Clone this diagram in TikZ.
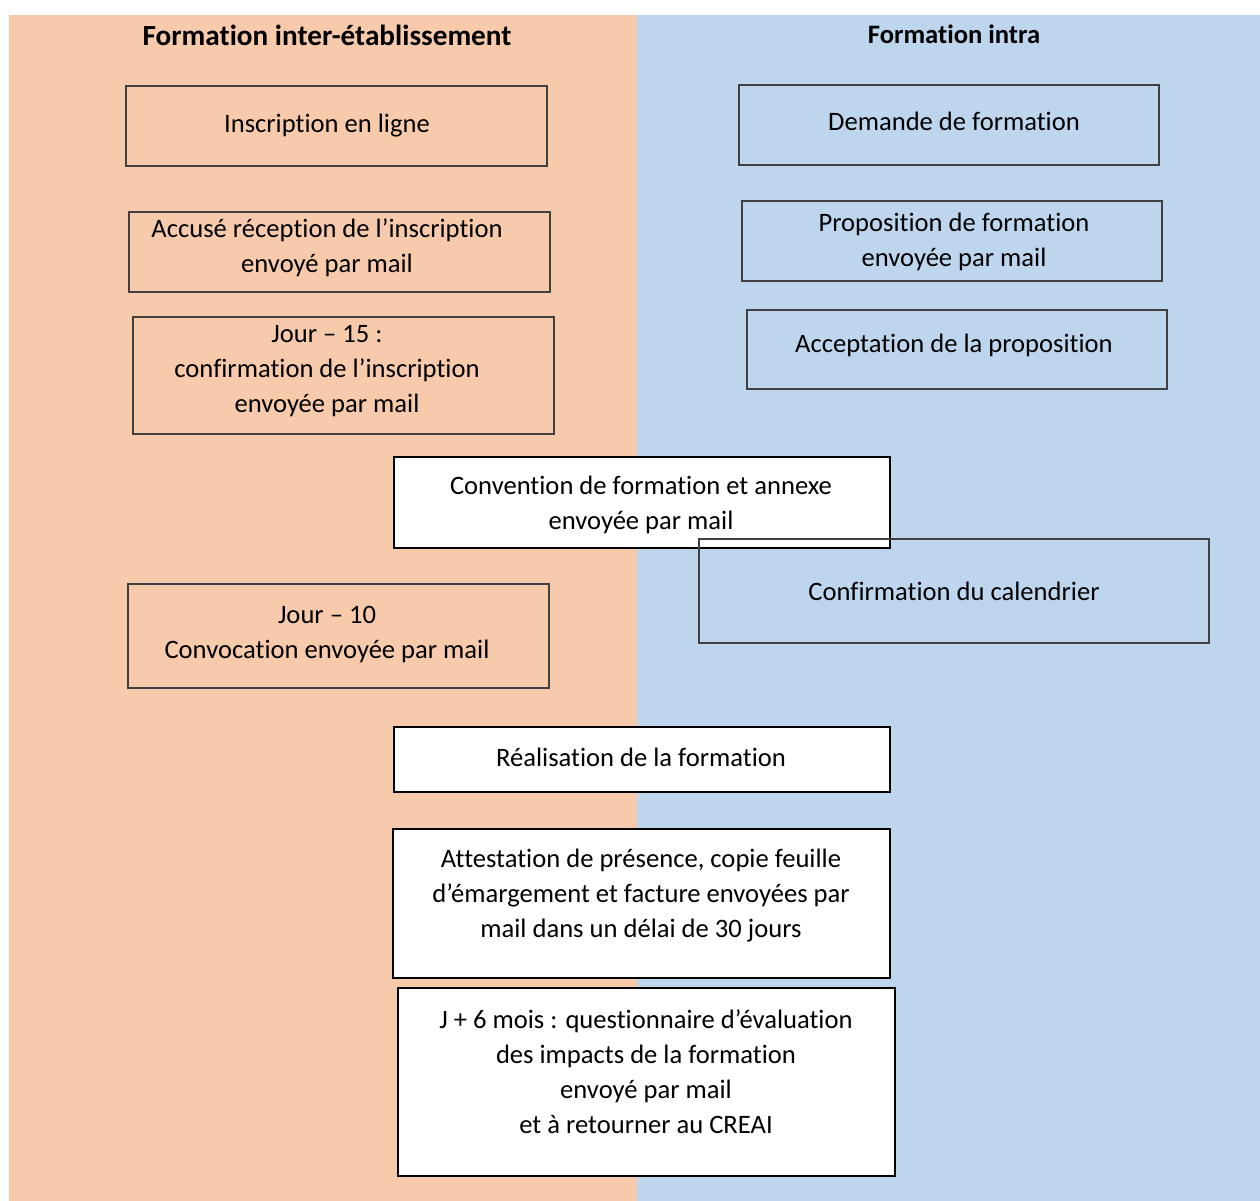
\documentclass[tikz,border=0pt]{standalone}
\usepackage{fontspec}
\setmainfont[RawFeature={-liga;-clig;-calt;-dlig}]{Carlito}
\definecolor{orangebg}{HTML}{F7CAAC}
\definecolor{bluebg}{HTML}{BDD6EE}
\begin{document}
\begin{tikzpicture}[x=0.5pt,y=-0.5pt,
  thinbox/.style={draw=black!75,line width=0.6pt,inner sep=0pt},
  thickbox/.style={draw=black,fill=white,line width=1.1pt,inner sep=0pt},
  txt/.style={align=center,inner sep=0pt,font=\fontsize{13.3}{17.5}\selectfont},
  ttl/.style={inner sep=0pt,font=\fontsize{13.3}{16}\selectfont\bfseries}]
\useasboundingbox (0,0) rectangle (1260,1201);
\fill[orangebg] (9,15) rectangle (637,1201);
\fill[bluebg] (637,15) rectangle (1260,1201);
% titles
\node[ttl,font=\fontsize{14.6}{17}\selectfont\bfseries] (t1) at (327,35) {Formation inter-établissement};
\node[ttl] (t2) at (954,34) {Formation intra};
% left column
\draw[thinbox] (126,86) rectangle (547,166);
\node[txt] (l1) at (327,125.5) {Inscription en ligne};
\draw[thinbox] (129,212) rectangle (550,292);
\node[txt] (l2) at (327,248) {Accusé réception de l’inscription\\envoyé par mail};
\draw[thinbox] (133,317) rectangle (554,434);
\node[txt] (l3) at (327,371.5) {Jour – 15 :\\confirmation de l’inscription\\envoyée par mail};
\draw[thinbox] (128,584) rectangle (549,688);
\node[txt] (l4) at (327,635) {Jour – 10\\Convocation envoyée par mail};
% right column
\draw[thinbox] (739,85) rectangle (1159,165);
\node[txt] (r1) at (954,121.5) {Demande de formation};
\draw[thinbox] (742,201) rectangle (1162,281);
\node[txt] (r2) at (954,242) {Proposition de formation\\envoyée par mail};
\draw[thinbox] (747,310) rectangle (1167,389);
\node[txt] (r3) at (954,345.5) {Acceptation de la proposition};
% centre
\filldraw[thickbox] (394,457) rectangle (890,548);
\node[txt] (c1) at (641,505) {Convention de formation et annexe\\envoyée par mail};
\draw[thinbox] (699,539) rectangle (1209,643);
\node[txt] (r4) at (954,591) {Confirmation du calendrier};
\filldraw[thickbox] (394,727) rectangle (890,792);
\node[txt] (c2) at (641,757) {Réalisation de la formation};
\filldraw[thickbox] (393,829) rectangle (890,978);
\node[txt] (c3) at (641,896) {Attestation de présence, copie feuille\\d’émargement et facture envoyées par\\mail dans un délai de 30 jours};
\filldraw[thickbox] (398,988) rectangle (895,1176);
\node[txt] (c4) at (646,1072) {J + 6 mois : questionnaire d’évaluation\\des impacts de la formation\\envoyé par mail\\et à retourner au CREAI};
\end{tikzpicture}
\end{document}
